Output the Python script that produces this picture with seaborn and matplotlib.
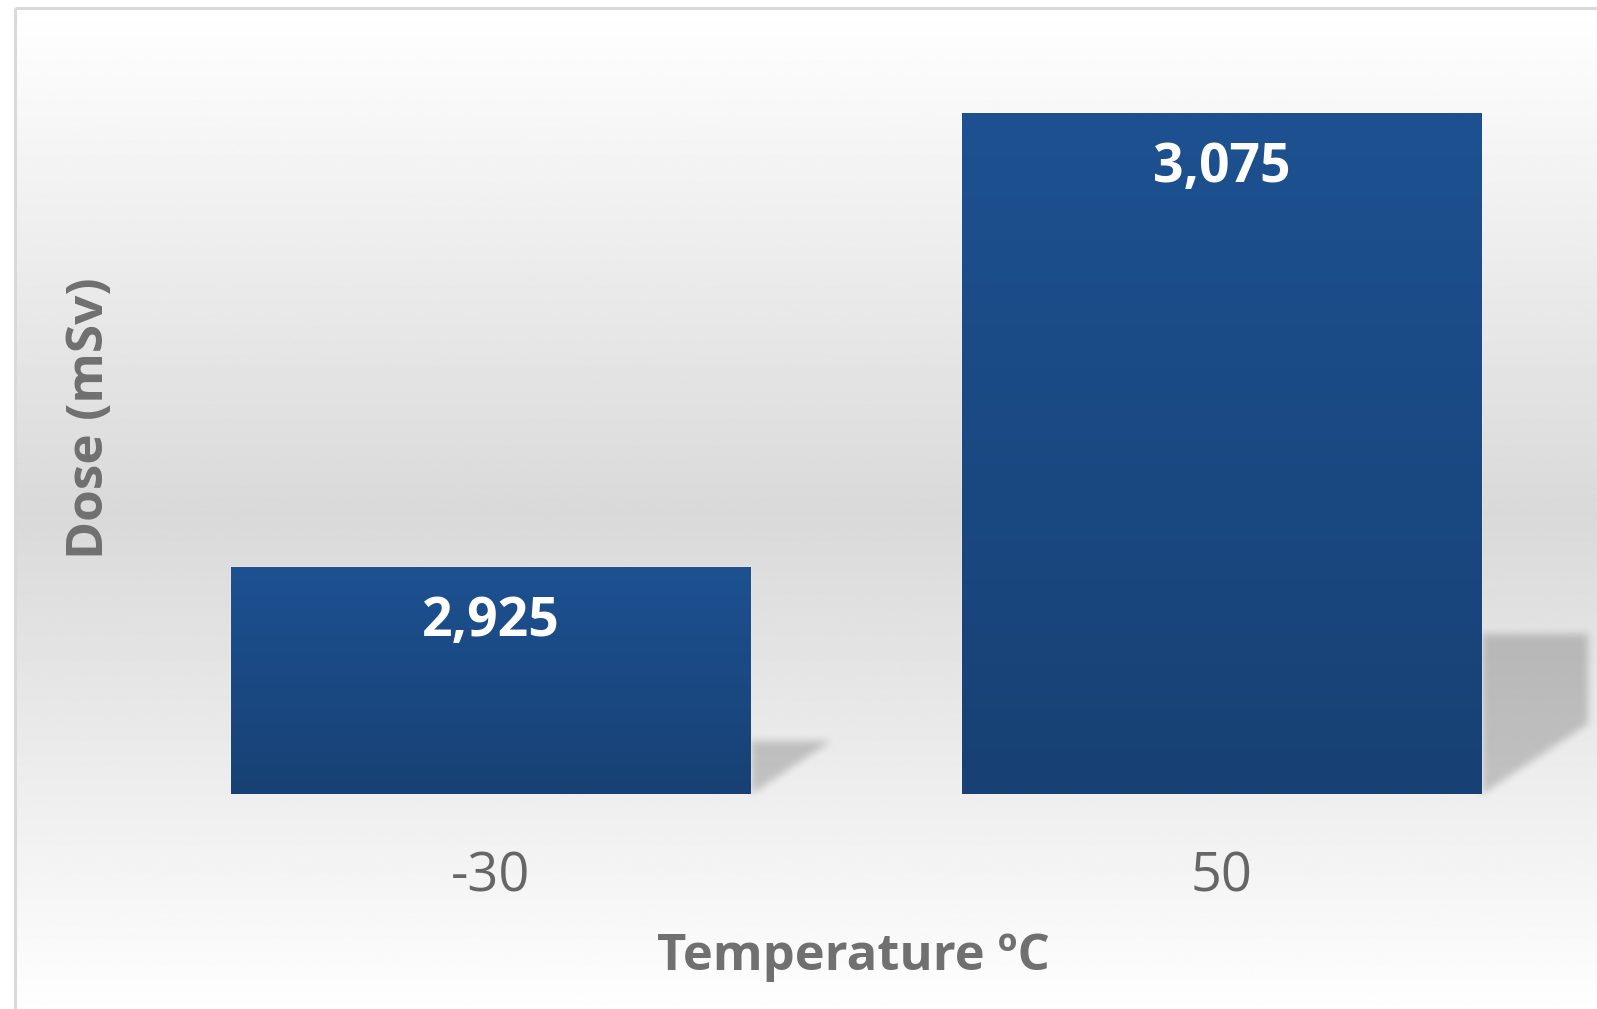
import numpy as np
import pandas as pd
import matplotlib
matplotlib.use("Agg")
import matplotlib.pyplot as plt
from matplotlib.colors import LinearSegmentedColormap
from matplotlib.patches import Rectangle
import seaborn as sns

# Dose measured at two storage temperatures
temperatures = ["-30", "50"]
doses = [2925, 3075]
y_floor = 2850
y_ceiling = 3100

x_title = "Temperature ºC"
y_title = "Dose (mSv)"

W, H, DPI = 1597, 1009, 100

sns.set_theme(style="white")
plt.rcParams["font.family"] = ["Open Sans", "DejaVu Sans"]

fig = plt.figure(figsize=(W / DPI, H / DPI), dpi=DPI)
fig.patch.set_facecolor("white")

# ---- background panel: vertical white-grey-white gradient inside a thin frame
bg = fig.add_axes([0, 0, 1, 1], zorder=0)
bg.set_xlim(0, W)
bg.set_ylim(H, 0)
bg.axis("off")
frame_left, frame_top = 15, 8
rows = np.linspace(0, 1, 512)[:, None]
grey = 1.0 - (38 / 255) * (1 - np.abs(rows - 0.5) * 2)
bg.imshow(np.repeat(grey, 2, axis=1), cmap="gray", vmin=0, vmax=1,
          extent=[frame_left, W + 5, H + 10, frame_top], aspect="auto",
          interpolation="bilinear", zorder=0)
bg.add_patch(Rectangle((frame_left, frame_top), W, H, fill=False,
                       edgecolor="#d9d9d9", linewidth=2.2, zorder=1))

# ---- main plot area
ax = fig.add_axes([125 / W, 1 - 794 / H, 1462 / W, (794 - 37) / H], zorder=2)
ax.patch.set_alpha(0)

df = pd.DataFrame({"Temperature": temperatures, "Dose": doses})
sns.barplot(data=df, x="Temperature", y="Dose", order=temperatures,
            color="#1b4a86", width=0.71, saturation=1, ax=ax, zorder=3)

ax.set_xlim(-0.5, len(temperatures) - 0.5)
ax.set_ylim(y_floor, y_ceiling)

# vertical colour gradient on each bar
bar_cmap = LinearSegmentedColormap.from_list("bar", ["#174174", "#1d5191"])
grad = np.linspace(0, 1, 256)[:, None]
for patch in ax.patches:
    x0, w = patch.get_x(), patch.get_width()
    top = patch.get_height() + patch.get_y()
    img = ax.imshow(grad, cmap=bar_cmap, origin="lower", aspect="auto",
                    extent=[x0, x0 + w, y_floor, top], zorder=3.5,
                    interpolation="bilinear")
    img.set_clip_path(patch)
ax.set_xlim(-0.5, len(temperatures) - 0.5)
ax.set_ylim(y_floor, y_ceiling)

# value labels inside the top of each bar
for patch, value in zip(ax.patches, doses):
    ax.annotate(f"{value:,}", xy=(patch.get_x() + patch.get_width() / 2, value),
                xytext=(0, -50), textcoords="offset points",
                ha="center", va="baseline", color="white",
                fontsize=38.5, fontweight="bold", zorder=5)

# soft floor shadows cast to the right of each bar
fig.canvas.draw()
shadow = np.zeros((H, W))
cols = np.arange(W)[None, :]
rws = np.arange(H)[:, None]
ax_right_px = ax.transAxes.transform((1, 0))[0]
for patch in ax.patches:
    (xl, yb), (xr, yt) = ax.transData.transform(
        [(patch.get_x(), y_floor), (patch.get_x() + patch.get_width(), patch.get_height())])
    base_row, top_row = H - yb, H - yt
    s = 0.235 * (base_row - top_row)
    inside = ((rws >= base_row - s) & (rws <= base_row) &
              (cols >= xr) & (cols <= xr + 1.5 * (base_row - rws)) &
              (cols <= ax_right_px))
    shadow = np.maximum(shadow, inside.astype(float))


def box_blur(a, r, axis):
    k = np.ones(2 * r + 1) / (2 * r + 1)
    return np.apply_along_axis(lambda v: np.convolve(v, k, mode="same"), axis, a)


for _ in range(2):
    shadow = box_blur(box_blur(shadow, 4, 0), 4, 1)
rgba = np.zeros((H, W, 4))
rgba[..., 3] = shadow * 0.19
bg.imshow(rgba, extent=[0, W, H, 0], aspect="auto", zorder=2,
          interpolation="nearest")
bg.set_xlim(0, W)
bg.set_ylim(H, 0)

# ---- axes styling: only category labels and titles are shown
sns.despine(ax=ax, left=True, bottom=True)
ax.set_yticks([])
ax.tick_params(axis="x", length=0, pad=40, labelsize=39, labelcolor="#666666")
ax.set_xlabel(x_title, fontsize=36.5, fontweight="bold", color="#707070",
              va="baseline")
ax.xaxis.set_label_coords(0.498, (794 - 970) / 757)
ax.set_ylabel(y_title, fontsize=37, fontweight="bold", color="#707070",
              va="center")
ax.yaxis.set_label_coords((90 - 125) / 1462, (794 - 418) / 757)

fig.savefig("out.png", dpi=DPI)
